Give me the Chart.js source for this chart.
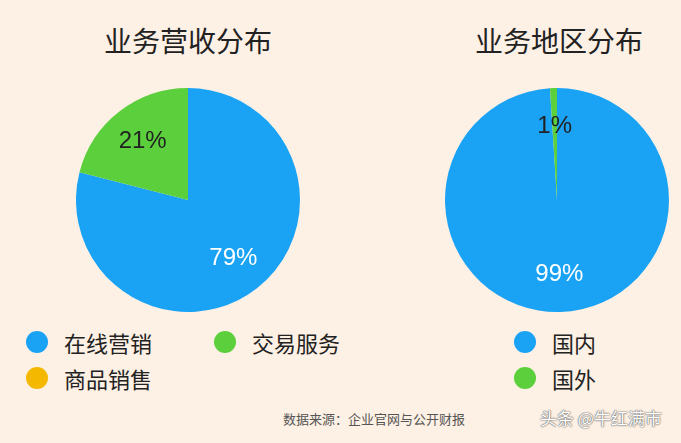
<!DOCTYPE html>
<html><head><meta charset="utf-8">
<script src="https://cdn.jsdelivr.net/npm/chart.js@4"></script>
<style>
body{margin:0;width:681px;height:443px;background:#fdf0e4;font-family:"Noto Sans CJK SC",sans-serif;position:relative;overflow:hidden}
.t{position:absolute;font-size:28px;color:#222;top:20px}
.c{position:absolute;top:88px;width:224px;height:224px}
.lg{position:absolute;font-size:22px;color:#222;display:flex;align-items:center}
.dot{width:22px;height:22px;border-radius:50%;margin-right:16px}
.src{position:absolute;left:283px;top:409px;font-size:13px;color:#555}
.wm{position:absolute;left:540px;top:405px;font-size:17px;color:#fff;text-shadow:0 0 2px #666,0 0 1px #333}
</style></head><body>
<div class="t" style="left:104px">业务营收分布</div>
<div class="t" style="left:475px">业务地区分布</div>
<div class="c" style="left:76px"><canvas id="a"></canvas></div>
<div class="c" style="left:445px"><canvas id="b"></canvas></div>
<div class="lg" style="left:26px;top:326px"><span class="dot" style="background:#1aa3f5"></span>在线营销</div>
<div class="lg" style="left:214px;top:326px"><span class="dot" style="background:#5ccf3c"></span>交易服务</div>
<div class="lg" style="left:26px;top:362px"><span class="dot" style="background:#f5b800"></span>商品销售</div>
<div class="lg" style="left:514px;top:326px"><span class="dot" style="background:#1aa3f5"></span>国内</div>
<div class="lg" style="left:514px;top:362px"><span class="dot" style="background:#5ccf3c"></span>国外</div>
<div class="src">数据来源：企业官网与公开财报</div>
<div class="wm">头条 @牛红满市</div>
<script>
const revCats=["在线营销","交易服务","商品销售"];
const revVals=[79,21,0];
const regCats=["国内","国外"];
const regVals=[99,1];
const colors=["#1aa3f5","#5ccf3c","#f5b800"];
const labelColors=["#fff","#222","#222"];
const lbl={id:'lbl',afterDatasetsDraw(ch){const ctx=ch.ctx;const m=ch.getDatasetMeta(0);const d=ch.data.datasets[0].data;
ctx.save();ctx.font='24px "Liberation Sans",sans-serif';ctx.textAlign='center';ctx.textBaseline='middle';
m.data.forEach((a,i)=>{if(!d[i])return;const ang=(a.startAngle+a.endAngle)/2;const r=a.outerRadius*0.66;
ctx.fillStyle=labelColors[i];ctx.fillText(d[i]+'%',a.x+Math.cos(ang)*r,a.y+Math.sin(ang)*r);});ctx.restore();}};
function mk(id,cats,vals){new Chart(document.getElementById(id),{type:'pie',data:{labels:cats,datasets:[{data:vals,backgroundColor:colors,borderWidth:0}]},
options:{responsive:true,maintainAspectRatio:false,animation:false,plugins:{legend:{display:false},tooltip:{enabled:false}}},plugins:[lbl]});}
mk('a',revCats,revVals);mk('b',regCats,regVals);
</script></body></html>
